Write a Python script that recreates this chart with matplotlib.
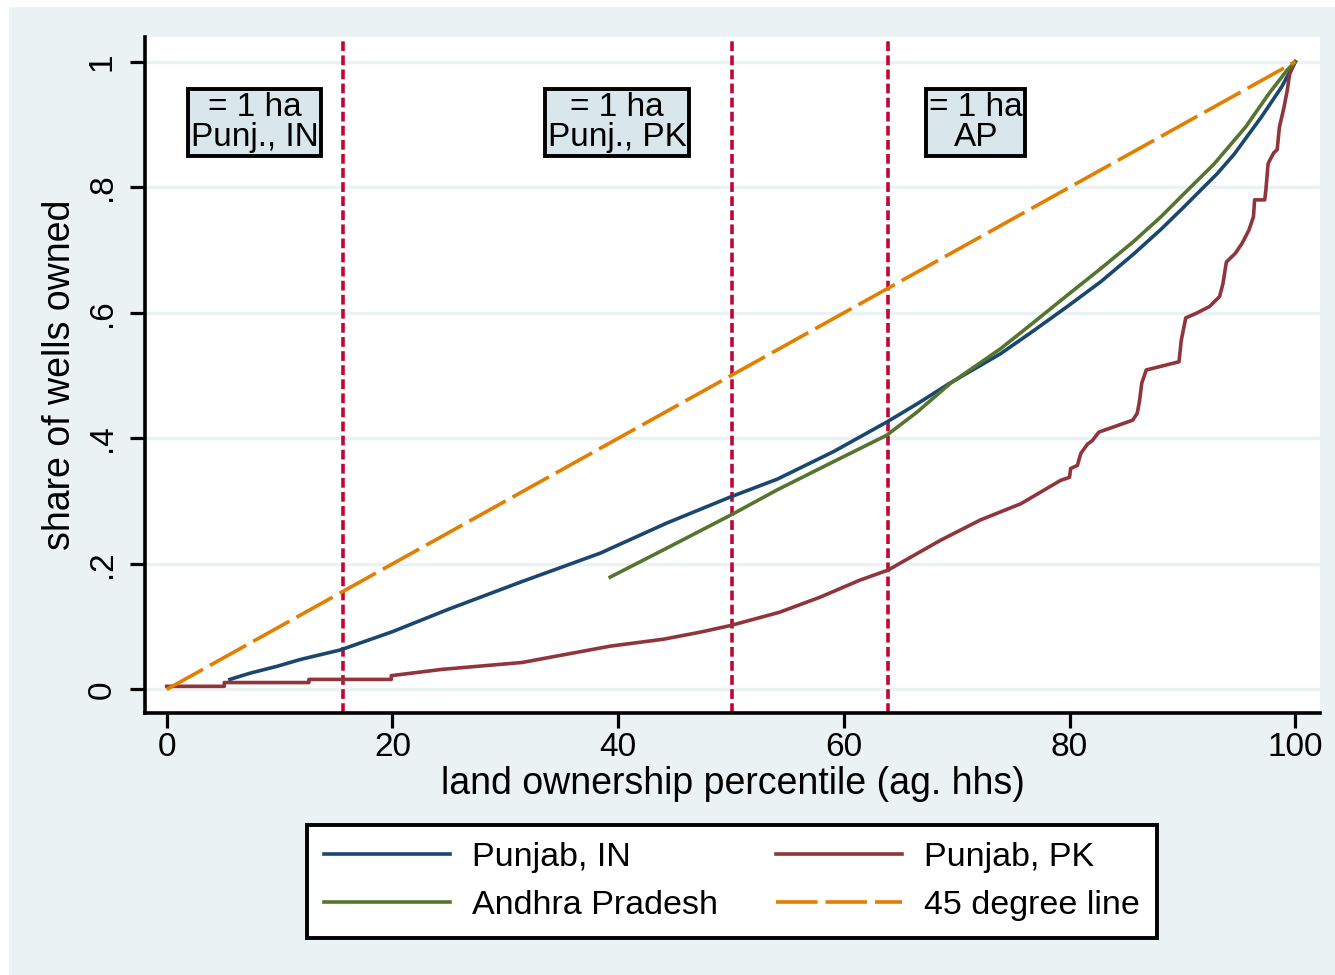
import matplotlib
matplotlib.use('Agg')

import matplotlib.pyplot as plt
from matplotlib.patches import Rectangle

plt.rcParams['font.family'] = ['Liberation Sans', 'DejaVu Sans']

# share of wells owned vs land ownership percentile
pin_x = [5.6, 7.4, 9.8, 11.9, 15.4, 20, 25, 31.5, 38.4, 44.3, 50, 54.1, 59.1, 63.8, 66.5,
         69.4, 73.9, 76.7, 79.8, 82.8, 85.7, 88.1, 90.1, 93.1, 94.6, 97, 98.8, 100]
pin_y = [0.016, 0.026, 0.037, 0.048, 0.063, 0.092, 0.128, 0.172, 0.217, 0.265, 0.307, 0.335,
         0.379, 0.426, 0.455, 0.488, 0.535, 0.57, 0.61, 0.65, 0.694, 0.733, 0.768, 0.822,
         0.853, 0.912, 0.96, 1.0]

ppk_x = [0, 5.1, 5.1, 12.6, 12.6, 19.9, 19.9, 24.4, 31.5, 39.3, 44, 47.2, 50, 54.3, 57.9, 61.4,
         63.9, 68.6, 72.1, 75.7, 79.2, 80.0, 80.1, 80.7, 81.0, 81.6, 82.0, 82.6, 85.6, 86.0, 86.2,
         86.4, 86.8, 89.7, 89.9, 90.3, 91.2, 92.4, 93.3, 93.6, 93.9, 94.7, 95.3, 95.9, 96.3, 96.4,
         97.3, 97.4, 97.6, 98.1, 98.4, 98.6, 99.0, 99.3, 99.5, 100]
ppk_y = [0.005, 0.005, 0.011, 0.011, 0.016, 0.016, 0.022, 0.032, 0.043, 0.069, 0.08, 0.091, 0.102,
         0.123, 0.147, 0.174, 0.19, 0.238, 0.27, 0.296, 0.333, 0.338, 0.352, 0.357, 0.376, 0.391,
         0.396, 0.41, 0.429, 0.44, 0.459, 0.488, 0.509, 0.522, 0.556, 0.592, 0.599, 0.61, 0.626,
         0.647, 0.681, 0.695, 0.711, 0.732, 0.753, 0.78, 0.78, 0.796, 0.838, 0.855, 0.86, 0.896,
         0.927, 0.955, 0.98, 1.0]

ap_x = [39.3, 44.3, 50, 54.1, 59.1, 63.8, 66.5, 69.4, 73.9, 76.7, 79.8, 82.8, 85.7, 88.1,
        90.1, 92.8, 95.6, 97.7, 99.3, 100]
ap_y = [0.179, 0.225, 0.278, 0.318, 0.363, 0.405, 0.442, 0.487, 0.543, 0.583, 0.628, 0.671,
        0.714, 0.753, 0.789, 0.837, 0.896, 0.95, 0.987, 1.0]

diag_x = [0, 100]
diag_y = [0, 1]

# 1 ha cut-offs and their labels
cut_x = [15.6, 50.1, 63.9]
cut_labels = ['= 1 ha\nPunj., IN', '= 1 ha\nPunj., PK', '= 1 ha\nAP']
label_x = [7.8, 39.9, 71.7]

yticks = [0, 0.2, 0.4, 0.6, 0.8, 1]
ytick_labels = ['0', '.2', '.4', '.6', '.8', '1']
xticks = [0, 20, 40, 60, 80, 100]

BG = '#eaf2f3'
fig = plt.figure(figsize=(13.35, 9.75), dpi=100, facecolor=BG)
# thin white frame on top / left like the original export
fig.patches.append(Rectangle((0, 0), 8 / 1335, 1, transform=fig.transFigure,
                             color='white', zorder=-1))
fig.patches.append(Rectangle((0, 1 - 6 / 975), 1, 6 / 975, transform=fig.transFigure,
                             color='white', zorder=-1))

ax = fig.add_axes([0.1088, 0.2684, 0.88, 0.694])
ax.set_facecolor('white')

lw = 2.6
ax.plot(pin_x, pin_y, color='#1a476f', lw=lw, label='Punjab, IN', zorder=3)
ax.plot(ppk_x, ppk_y, color='#90353b', lw=lw, label='Punjab, PK', zorder=3)
ax.plot(ap_x, ap_y, color='#55752f', lw=lw, label='Andhra Pradesh', zorder=3)
ax.plot(diag_x, diag_y, color='#e37e00', lw=lw, linestyle=(0, (11.5, 2.2)),
        label='45 degree line', zorder=3)

for cx in cut_x:
    ax.axvline(cx, color='#c10534', lw=2.6, linestyle=(0, (2.7, 1.2)), zorder=2)

for lx, txt in zip(label_x, cut_labels):
    ax.text(lx, 0.903, txt, ha='center', va='center', fontsize=24, linespacing=0.98,
            zorder=4,
            bbox=dict(boxstyle='square,pad=0.08', facecolor='#d9e6eb', edgecolor='black',
                      linewidth=2.8))

ax.set_xlim(-1.9, 102.2)
ax.set_ylim(-0.038, 1.04)
ax.set_xticks(xticks)
ax.set_yticks(yticks)
ax.set_yticklabels(ytick_labels, rotation=90, va='center')
ax.tick_params(axis='both', labelsize=24, length=10.8, width=2.3, direction='out')
ax.tick_params(axis='x', pad=3)
ax.tick_params(axis='y', pad=9)
ax.grid(axis='y', color=BG, linewidth=2.4, zorder=1)
ax.set_axisbelow(True)

for side in ['top', 'right']:
    ax.spines[side].set_visible(False)
for side in ['left', 'bottom']:
    ax.spines[side].set_linewidth(2.6)

ax.set_xlabel('land ownership percentile (ag. hhs)', fontsize=27, labelpad=2)
ax.set_ylabel('share of wells owned', fontsize=27, labelpad=6)

handles, labels = ax.get_legend_handles_labels()
# matplotlib fills columns first: row 1 = IN, PK ; row 2 = AP, 45 degree
order = [0, 2, 1, 3]
leg = fig.legend([handles[i] for i in order], [labels[i] for i in order], ncol=2,
                 loc='center', bbox_to_anchor=(732 / 1335, 1 - 881.5 / 975),
                 fontsize=24.5, frameon=True, fancybox=False, edgecolor='black',
                 facecolor='white', framealpha=1,
                 handlelength=3.7, handletextpad=0.65, columnspacing=1.7,
                 labelspacing=0.5, borderpad=0.5, borderaxespad=0)
leg.get_frame().set_linewidth(2.8)

fig.savefig('out.png', dpi=100, facecolor=BG)
